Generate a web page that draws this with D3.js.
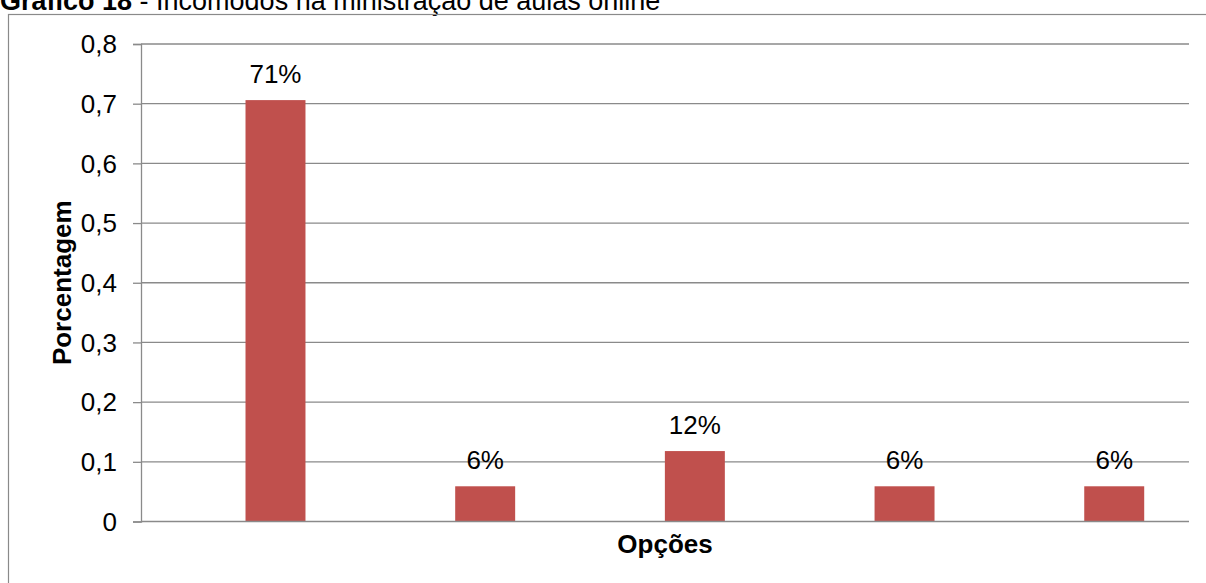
<!DOCTYPE html>
<html>
<head>
<meta charset="utf-8">
<script src="https://cdn.jsdelivr.net/npm/d3@7"></script>
<style>
  html, body { margin: 0; padding: 0; background: #fff; }
  svg { display: block; font-family: "Liberation Sans", Arial, sans-serif; }
</style>
</head>
<body>
<svg id="chart" width="1206" height="583"></svg>
<script>
// Survey answers: share of respondents per option
const categories = ["Opção 1", "Opção 2", "Opção 3", "Opção 4", "Opção 5"];
const shares = [0.706, 0.059, 0.118, 0.059, 0.059];
const yTicks = [0, 0.1, 0.2, 0.3, 0.4, 0.5, 0.6, 0.7, 0.8];

const titleBold = "Gráfico 18";
const titleRest = " - Incômodos na ministração de aulas online";
const yTitle = "Porcentagem";
const xTitle = "Opções";

const svg = d3.select("#chart");
const W = 1206, H = 583;
const plot = { left: 141, right: 1189, top: 44, bottom: 521.5 };
const gridColor = "#8a8a8a";
const barColor = "#c0504d";
const fontSize = 26;

const ptBR = d3.formatLocale({ decimal: ",", thousands: ".", grouping: [3], currency: ["R$", ""] });
const tickFmt = v => v === 0 ? "0" : ptBR.format(".1f")(v);
const pctFmt = d3.format(".0%");

// Caption above the frame
const cap = svg.append("text")
  .attr("x", 0).attr("y", 10)
  .attr("font-size", 27).attr("fill", "#000");
cap.append("tspan").attr("font-weight", "bold").text(titleBold);
cap.append("tspan").text(titleRest);

// Outer chart frame
svg.append("rect")
  .attr("x", 8.5).attr("y", 14.5)
  .attr("width", W + 20).attr("height", H + 20)
  .attr("fill", "none").attr("stroke", gridColor).attr("stroke-width", 1.2);

const y = d3.scaleLinear().domain([0, 0.8]).range([plot.bottom, plot.top]);
const x = d3.scaleBand().domain(categories)
  .range([plot.left, plot.right])
  .paddingInner(0.714).paddingOuter(0.356).align(0.7);

// Horizontal gridlines
svg.append("g").selectAll("line").data(yTicks.slice(1)).join("line")
  .attr("x1", plot.left).attr("x2", plot.right)
  .attr("y1", d => y(d)).attr("y2", d => y(d))
  .attr("stroke", gridColor).attr("stroke-width", 1.3);

// Y axis
const yAxis = svg.append("g")
  .attr("transform", `translate(${plot.left},0)`)
  .call(d3.axisLeft(y).tickValues(yTicks).tickFormat(tickFmt).tickSize(8).tickPadding(16));
yAxis.select(".domain").attr("stroke", gridColor).attr("stroke-width", 1.3);
yAxis.selectAll(".tick line").attr("stroke", gridColor).attr("stroke-width", 1.3);
yAxis.selectAll(".tick text")
  .attr("font-size", fontSize).attr("font-family", "Liberation Sans, Arial, sans-serif")
  .attr("fill", "#000").attr("dy", "0.34em");

// Bars
svg.append("g").selectAll("rect").data(categories).join("rect")
  .attr("x", d => x(d))
  .attr("y", (d, i) => y(shares[i]))
  .attr("width", x.bandwidth())
  .attr("height", (d, i) => y(0) - y(shares[i]))
  .attr("fill", barColor);

// X axis baseline
svg.append("line")
  .attr("x1", plot.left).attr("x2", plot.right)
  .attr("y1", y(0)).attr("y2", y(0))
  .attr("stroke", gridColor).attr("stroke-width", 1.3);

// Value labels
svg.append("g").selectAll("text").data(categories).join("text")
  .attr("x", d => x(d) + x.bandwidth() / 2)
  .attr("y", (d, i) => y(shares[i]) - 17.5)
  .attr("text-anchor", "middle")
  .attr("font-size", fontSize).attr("fill", "#000")
  .text((d, i) => pctFmt(shares[i]));

// Axis titles
svg.append("text")
  .attr("x", (plot.left + plot.right) / 2).attr("y", 552.5)
  .attr("text-anchor", "middle").attr("font-weight", "bold")
  .attr("font-size", fontSize).attr("fill", "#000")
  .text(xTitle);

svg.append("text")
  .attr("transform", `translate(71,${(plot.top + plot.bottom) / 2}) rotate(-90)`)
  .attr("text-anchor", "middle").attr("font-weight", "bold")
  .attr("font-size", fontSize).attr("fill", "#000")
  .text(yTitle);
</script>
</body>
</html>
